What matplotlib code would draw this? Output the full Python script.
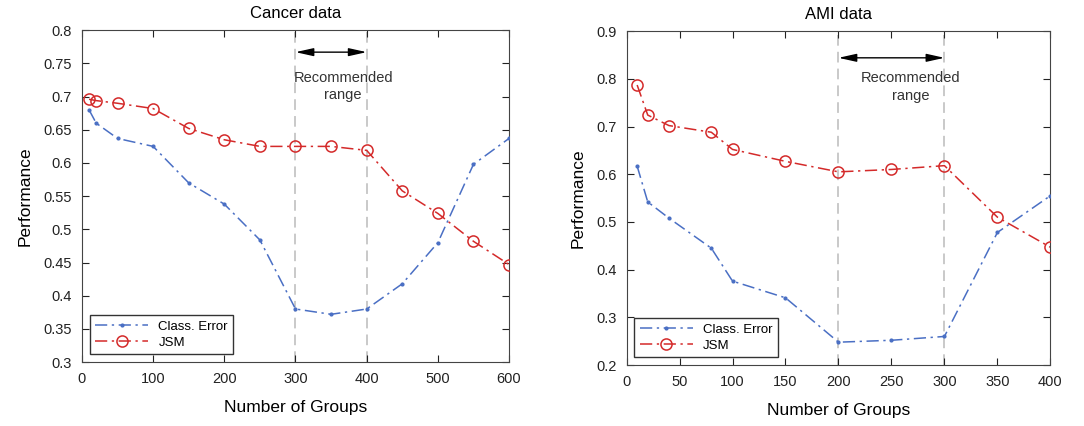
import numpy as np
import matplotlib.pyplot as plt

plt.rcParams['font.family'] = ['Liberation Sans', 'DejaVu Sans']

# Cancer data
cancer_x = [10, 20, 50, 100, 150, 200, 250, 300, 350, 400, 450, 500, 550, 600]
cancer_err = [0.68, 0.66, 0.637, 0.625, 0.57, 0.538, 0.484, 0.38, 0.372, 0.38, 0.418, 0.48, 0.598, 0.637]
cancer_jsm = [0.696, 0.694, 0.690, 0.682, 0.652, 0.635, 0.625, 0.625, 0.625, 0.619, 0.558, 0.524, 0.482, 0.447]

# AMI data
ami_x = [10, 20, 40, 80, 100, 150, 200, 250, 300, 350, 400]
ami_err = [0.617, 0.542, 0.508, 0.445, 0.376, 0.341, 0.248, 0.252, 0.26, 0.478, 0.555]
ami_jsm = [0.787, 0.724, 0.702, 0.688, 0.652, 0.627, 0.605, 0.61, 0.618, 0.51, 0.447]

blue = '#4a6fc4'
red = '#d42a2a'

fig = plt.figure(figsize=(10.84, 4.26), dpi=100)
ax1 = fig.add_axes([0.0756, 0.150, 0.394, 0.779])
ax2 = fig.add_axes([0.578, 0.143, 0.391, 0.784])


def panel(ax, x, err, jsm, title, xlim, xticks, ylim, yticks, yfmt, rng, arrow_y, txt_x, txt_y):
    for v in rng:
        ax.axvline(v, color='#bbbbbb', ls=(0, (7, 4)), lw=1.1, zorder=1)
    ax.plot(x, err, color=blue, ls=(0, (8, 3, 1.5, 3)), marker='.', ms=4, lw=1.1,
            label='Class. Error', zorder=3)
    ax.plot(x, jsm, color=red, ls=(0, (8, 3, 1.5, 3)), marker='o', ms=8, mfc='none', mew=1.1,
            lw=1.1, label='JSM', zorder=3)
    ax.annotate('', xy=(rng[0], arrow_y), xytext=(rng[1], arrow_y),
                arrowprops=dict(arrowstyle='<|-|>,head_length=0.9,head_width=0.2', color='black',
                                lw=1.0, mutation_scale=12, shrinkA=0, shrinkB=0))
    ax.text(txt_x, txt_y, 'Recommended\nrange', ha='center', va='center', fontsize=10.5,
            color='#333333', linespacing=1.3)
    ax.set_xlim(xlim)
    ax.set_ylim(ylim)
    ax.set_xticks(xticks)
    ax.set_yticks(yticks)
    ax.set_yticklabels([yfmt(v) for v in yticks])
    ax.tick_params(direction='in', top=True, right=True, labelsize=10.5, length=5, pad=7,
                   colors='#222222')
    for s in ax.spines.values():
        s.set_color('#444444')
    ax.set_title(title, fontsize=12, pad=9)
    ax.set_xlabel('Number of Groups', fontsize=12.5, labelpad=10)
    ax.set_ylabel('Performance', fontsize=12.5, labelpad=8)
    leg = ax.legend(loc='lower left', fontsize=9.5, fancybox=False, edgecolor='#333333',
                    borderpad=0.4, handlelength=4, labelspacing=0.3, framealpha=1,
                    borderaxespad=0.6)
    leg.get_frame().set_linewidth(1.0)


panel(ax1, cancer_x, cancer_err, cancer_jsm, 'Cancer data', (0, 600), range(0, 601, 100),
      (0.3, 0.8), np.arange(0.3, 0.801, 0.05), lambda v: f'{v:.2f}'.rstrip('0').rstrip('.'),
      (300, 400), 0.767, 367, 0.715)
panel(ax2, ami_x, ami_err, ami_jsm, 'AMI data', (0, 400), range(0, 401, 50),
      (0.2, 0.9), np.arange(0.2, 0.901, 0.1), lambda v: f'{v:.1f}',
      (200, 300), 0.844, 268, 0.783)

fig.savefig('out.png', dpi=100)
